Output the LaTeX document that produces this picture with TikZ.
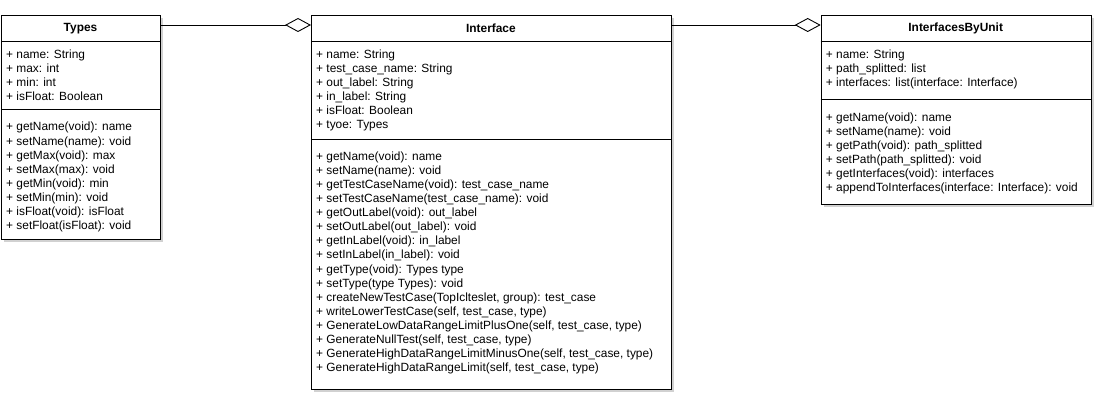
\documentclass[tikz,border=0pt]{standalone}
\usepackage{fontspec}
\setmainfont{Liberation Sans}
\usetikzlibrary{arrows.meta,shadows}
\newcommand{\fl}{\rule{0pt}{9pt}}
\begin{document}
\begin{tikzpicture}[x=1pt,y=-1pt,
  classbox/.style={draw=black,line width=0.9pt,fill=white,anchor=north west,inner sep=0pt,
     drop shadow={shadow xshift=2.5pt,shadow yshift=-2.5pt,opacity=0.18,fill=black}},
  title/.style={font=\fontsize{11.9}{13}\selectfont\bfseries,inner sep=0pt},
  members/.style={anchor=north west,align=left,inner sep=0pt,font=\fontsize{11.9}{14.1}\selectfont},
  sep/.style={line width=0.9pt},
  agg/.style={line width=0.9pt,-{Diamond[open,length=26pt,width=14pt,fill=white]}}
]
\useasboundingbox (0,0) rectangle (1102,404);
% Types
\node[classbox,minimum width=159pt,minimum height=224pt] (types) at (1,15) {};
\node[title] (typesT) at (80.5,28.3) {Types};
\draw[sep] ([yshift=-26.7pt]types.north west) -- ([yshift=-26.7pt]types.north east);
\draw[sep] ([yshift=-94pt]types.north west) -- ([yshift=-94pt]types.north east);
\node[members] (typesA) at (6,49) {\fl+ name: String\\+ max: int\\+ min: int\\+ isFloat: Boolean};
\node[members] (typesM) at (6,121.7) {\fl+ getName(void): name\\+ setName(name): void\\+ getMax(void): max\\+ setMax(max): void\\+ getMin(void): min\\+ setMin(min): void\\+ isFloat(void): isFloat\\+ setFloat(isFloat): void};
% Interface
\node[classbox,minimum width=359.7pt,minimum height=374pt] (iface) at (311,15) {};
\node[title] (ifaceT) at (490.9,28.3) {Interface};
\draw[sep] ([yshift=-26.7pt]iface.north west) -- ([yshift=-26.7pt]iface.north east);
\draw[sep] ([yshift=-124pt]iface.north west) -- ([yshift=-124pt]iface.north east);
\node[members] (ifaceA) at (316,49) {\fl+ name: String\\+ test\_case\_name: String\\+ out\_label: String\\+ in\_label: String\\+ isFloat: Boolean\\+ tyoe: Types};
\node[members] (ifaceM) at (316,151) {\fl+ getName(void): name\\+ setName(name): void\\+ getTestCaseName(void): test\_case\_name\\+ setTestCaseName(test\_case\_name): void\\+ getOutLabel(void): out\_label\\+ setOutLabel(out\_label): void\\+ getInLabel(void): in\_label\\+ setInLabel(in\_label): void\\+ getType(void): Types type\\+ setType(type Types): void\\+ createNewTestCase(TopIclteslet, group): test\_case\\+ writeLowerTestCase(self, test\_case, type)\\+ GenerateLowDataRangeLimitPlusOne(self, test\_case, type)\\+ GenerateNullTest(self, test\_case, type)\\+ GenerateHighDataRangeLimitMinusOne(self, test\_case, type)\\+ GenerateHighDataRangeLimit(self, test\_case, type)};
% InterfacesByUnit
\node[classbox,minimum width=270pt,minimum height=189pt] (ibu) at (820.7,15) {};
\node[title] (ibuT) at (955.7,28.3) {InterfacesByUnit};
\draw[sep] ([yshift=-26.7pt]ibu.north west) -- ([yshift=-26.7pt]ibu.north east);
\draw[sep] ([yshift=-84pt]ibu.north west) -- ([yshift=-84pt]ibu.north east);
\node[members] (ibuA) at (825.7,49) {\fl+ name: String\\+ path\_splitted: list\\+ interfaces: list(interface: Interface)};
\node[members] (ibuM) at (825.7,112) {\fl+ getName(void): name\\+ setName(name): void\\+ getPath(void): path\_splitted\\+ setPath(path\_splitted): void\\+ getInterfaces(void): interfaces\\+ appendToInterfaces(interface: Interface): void};
% connectors
\draw[agg] ([yshift=-10pt]types.north east) -- ([yshift=-10pt]iface.north west);
\draw[agg] ([yshift=-10pt]iface.north east) -- ([yshift=-10pt]ibu.north west);
\end{tikzpicture}
\end{document}
